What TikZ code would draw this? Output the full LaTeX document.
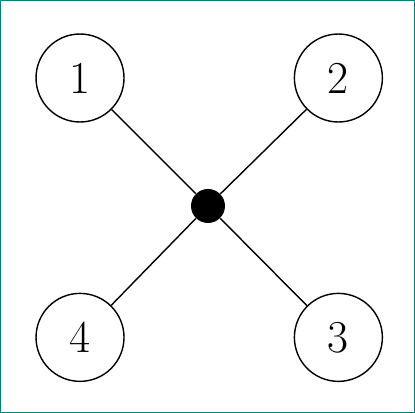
\documentclass[tikz,border=0pt]{standalone}
\usepackage{tikz}
\usetikzlibrary{positioning}
\definecolor{framecol}{RGB}{0,128,128}

\begin{document}
\begin{tikzpicture}[
  node distance=3.4cm and 3.38cm,
  mynode/.style={draw,circle,minimum size=1.76cm,inner sep=0pt,line width=0.8pt,font=\fontsize{26}{30}\selectfont},
  hub/.style={fill,circle,minimum size=0.68cm,inner sep=0pt}
]

\draw[framecol,line width=0.6pt] (0.01,0.01) rectangle (8.29,8.25);

\node[mynode] (n1) at (1.6,6.7) {1};
\node[mynode, right=of n1] (n2) {2};
\node[mynode, below=of n2] (n3) {3};
\node[mynode, below=of n1] (n4) {4};

\node[hub] (m) at (4.16,4.14) {};

\path[line width=0.8pt] (n1) edge (m)
(n2) edge (m)
(n3) edge (m)
(n4) edge (m);

\end{tikzpicture}
\end{document}
